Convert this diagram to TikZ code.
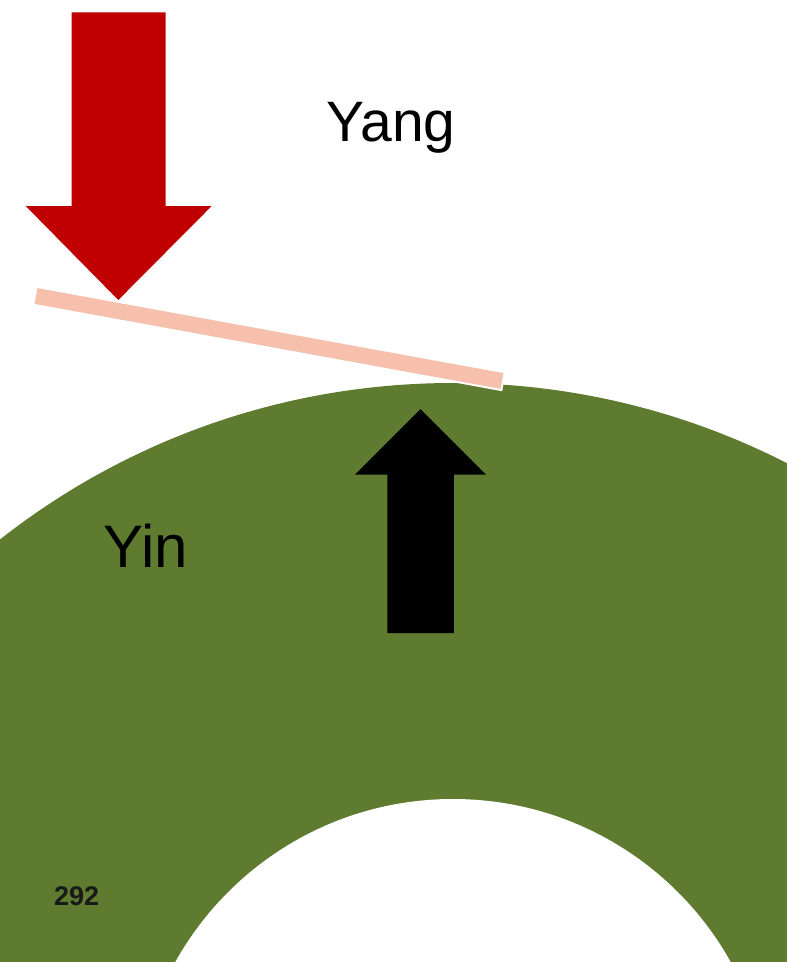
\documentclass[tikz,border=0pt]{standalone}
\usepackage{fontspec}
\setmainfont{Liberation Sans}
\usepackage{tikz}
\usetikzlibrary{calc,backgrounds}
\definecolor{yinGreen}{HTML}{5E7B2F}
\definecolor{yangRed}{HTML}{C00000}
\definecolor{barPink}{HTML}{F6C0AC}
\tikzset{
  label text/.style={anchor=base,inner sep=0pt,text=black},
  bar line/.style={line width=16pt,line cap=butt}
}

\begin{document}
\begin{tikzpicture}[x=1pt,y=-1pt]
\useasboundingbox (0,0) rectangle (787,962);
\clip (0,0) rectangle (787,962);
% ring
\coordinate (mid) at (453,1117);
\fill[yinGreen] (mid) circle (734);
\fill[white] (mid) circle (318);
% black arrow
\fill[black] (387.4,633) -- (387.4,474.7) -- (354.8,474.7) -- (420.5,409)
  -- (486,474.7) -- (453.8,474.7) -- (453.8,633) -- cycle;
% bar
\coordinate (barL) at (36,296);
\coordinate (barR) at (502,381);
\draw[white,line width=20pt,shorten <=-2pt,shorten >=-2pt] (barL) -- (barR);
\draw[barPink,bar line] (barL) -- (barR);
% red arrow
\fill[yangRed] (71.7,12.3) -- (165.7,12.3) -- (165.7,206) -- (211.7,206)
  -- (118.3,300) -- (25.7,206) -- (71.7,206) -- cycle;
% texts
\node[label text,font=\fontsize{57}{62}\selectfont] (yang) at (391,141) {Yang};
\node[label text,font=\fontsize{60}{66}\selectfont] (yin) at (146,567) {Yin};
\node[label text,anchor=base west,text=black!90,font=\fontsize{27}{29}\selectfont\bfseries] (page) at (54,905) {292};
\end{tikzpicture}
\end{document}
